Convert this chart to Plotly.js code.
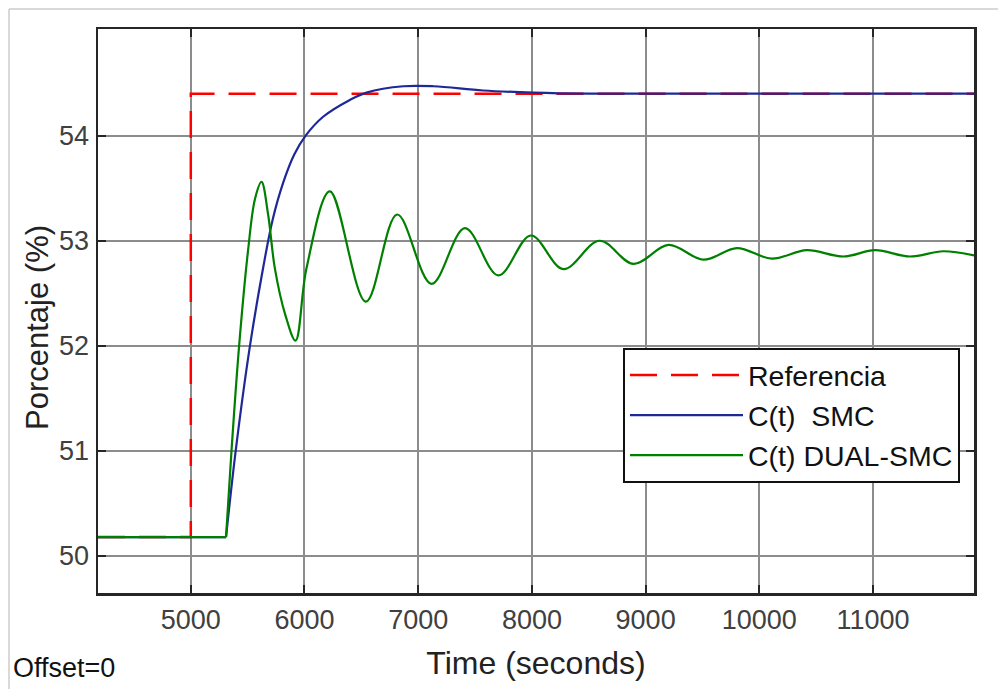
<!DOCTYPE html>
<html>
<head>
<meta charset="utf-8">
<script src="https://cdn.plot.ly/plotly-3.0.1.min.js"></script>
<style>
  html, body { margin: 0; padding: 0; background: #fff; }
  #chart { width: 998px; height: 689px; }
</style>
</head>
<body>
<div id="chart"></div>
<script>
// ---- data ----
const refTime = [4184, 5000, 5000, 11888];
const refValue = [50.18, 50.18, 54.40, 54.40];

// initial steady state (before both controllers react)
const flatTime = [4184, 5310];
const flatValue = [50.18, 50.18];

const smcTime = [5310, 5396, 5519, 5636, 5720, 5812, 5910, 6010, 6164, 6399, 6545, 6870, 7135, 7570, 8010, 8500, 9500, 11888];
const smcValue = [50.18, 51.01, 51.99, 52.74, 53.20, 53.55, 53.82, 54.00, 54.18, 54.34, 54.41, 54.47, 54.47, 54.43, 54.41, 54.40, 54.40, 54.40];

const dualTime = [5310, 5358, 5425, 5504, 5565, 5622, 5680, 5739, 5830, 5921, 6018, 6223, 6540, 6815, 7117, 7411, 7705, 7991, 8277, 8594, 8893, 9201, 9508, 9802, 10109, 10417, 10739, 11018, 11325, 11618, 11888];
const dualValue = [50.18, 51.00, 52.00, 52.91, 53.40, 53.56, 53.25, 52.74, 52.30, 52.05, 52.74, 53.47, 52.42, 53.25, 52.59, 53.12, 52.67, 53.05, 52.73, 53.00, 52.78, 52.96, 52.82, 52.93, 52.83, 52.91, 52.85, 52.91, 52.85, 52.90, 52.86];

const seriesNames = ['Referencia', 'C(t)  SMC', 'C(t) DUAL-SMC'];
const xTicks = [5000, 6000, 7000, 8000, 9000, 10000, 11000];
const yTicks = [50, 51, 52, 53, 54];

// ---- layout geometry ----
const W = 998, H = 689;
const L = 98, R = 24, T = 29, B = 96;
const pw = W - L - R, ph = H - T - B;
const px = v => (v - L) / pw;
const py = v => (H - B - v) / ph;

const FONT = 'Liberation Sans, Arial, sans-serif';
const RED = 'rgb(255,0,0)', BLUE = 'rgb(30,40,150)', GREEN = 'rgb(0,128,0)';

const traces = [
  { x: refTime, y: refValue, name: seriesNames[0], mode: 'lines',
    line: { color: RED, width: 2.5, dash: '27px,14px' } },
  { x: flatTime, y: flatValue, name: seriesNames[1], legendgroup: 'smc', showlegend: false, mode: 'lines',
    line: { color: BLUE, width: 2.2 } },
  { x: smcTime, y: smcValue, name: seriesNames[1], legendgroup: 'smc', mode: 'lines',
    line: { color: BLUE, width: 2.2, shape: 'spline', smoothing: 1 } },
  { x: flatTime, y: flatValue, name: seriesNames[2], legendgroup: 'dual', showlegend: false, mode: 'lines',
    line: { color: GREEN, width: 2.2 } },
  { x: dualTime, y: dualValue, name: seriesNames[2], legendgroup: 'dual', mode: 'lines',
    line: { color: GREEN, width: 2.2, shape: 'spline', smoothing: 1 } }
];

const axisFont = { family: FONT, size: 27, color: '#404040' };

const layout = {
  width: W, height: H,
  margin: { l: L, r: R, t: T, b: B, pad: 0 },
  paper_bgcolor: '#fff', plot_bgcolor: '#fff',
  showlegend: true,
  legend: {
    x: px(623), y: py(348), xanchor: 'left', yanchor: 'top',
    bgcolor: '#fff', bordercolor: '#111', borderwidth: 2,
    font: { family: FONT, size: 28.5, color: '#111' },
    itemwidth: 113, tracegroupgap: 0
  },
  xaxis: {
    range: [4184, 11888], tickvals: xTicks, ticktext: xTicks.map(String),
    showgrid: true, gridcolor: 'rgb(140,140,140)', gridwidth: 2,
    zeroline: false, showline: true, linecolor: '#262626', linewidth: 2.5, mirror: 'ticks',
    ticks: 'inside', ticklen: 8, tickwidth: 2, tickcolor: '#262626',
    tickfont: axisFont, ticklabelstandoff: 1,
    title: { text: 'Time (seconds)', font: { family: FONT, size: 32, color: '#222' }, standoff: 18 }
  },
  yaxis: {
    range: [49.648, 55.015], tickvals: yTicks, ticktext: yTicks.map(String),
    showgrid: true, gridcolor: 'rgb(140,140,140)', gridwidth: 2,
    zeroline: false, showline: true, linecolor: '#262626', linewidth: 2.5, mirror: 'ticks',
    ticks: 'inside', ticklen: 8, tickwidth: 2, tickcolor: '#262626',
    tickfont: axisFont, ticklabelstandoff: 1
  },
  shapes: [
    { type: 'line', xref: 'paper', yref: 'paper', x0: px(9), x1: px(998), y0: py(9), y1: py(9),
      line: { color: 'rgb(205,205,205)', width: 1.5 } },
    { type: 'line', xref: 'paper', yref: 'paper', x0: px(9), x1: px(9), y0: py(9), y1: py(689),
      line: { color: 'rgb(205,205,205)', width: 1.5 } }
  ],
  annotations: [
    { text: 'Porcentaje (%)', xref: 'paper', yref: 'paper', x: px(37), y: py(328),
      xanchor: 'center', yanchor: 'middle', textangle: -90, showarrow: false,
      font: { family: FONT, size: 31, color: '#222' } },
    { text: 'Offset=0', xref: 'paper', yref: 'paper', x: px(11), y: py(668),
      xanchor: 'left', yanchor: 'middle', showarrow: false,
      font: { family: FONT, size: 27, color: '#111' } }
  ]
};

Plotly.newPlot('chart', traces, layout, { displayModeBar: false, staticPlot: true });
</script>
</body>
</html>
